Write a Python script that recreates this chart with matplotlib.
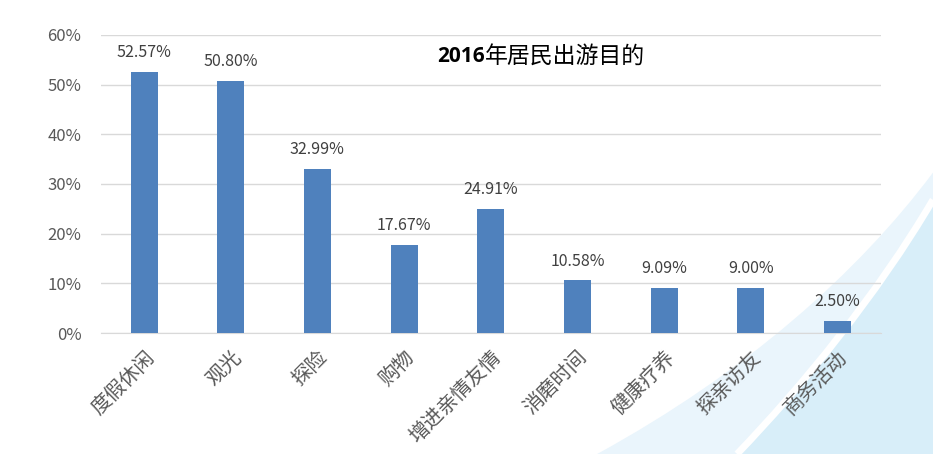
import matplotlib
matplotlib.use('Agg')
import matplotlib.pyplot as plt
import matplotlib.transforms as mtransforms
import numpy as np
from matplotlib.patches import PathPatch
from matplotlib.path import Path

plt.rcParams['font.family'] = ['Noto Sans CJK SC', 'DejaVu Sans']

categories = ['度假休闲', '观光', '探险', '购物', '增进亲情友情', '消磨时间', '健康疗养', '探亲访友', '商务活动']
values = [52.57, 50.80, 32.99, 17.67, 24.91, 10.58, 9.09, 9.00, 2.50]
yticks = [0, 10, 20, 30, 40, 50, 60]

fig = plt.figure(figsize=(9.33, 4.54), dpi=100)

# faint light blue swoosh in the background, bottom right
bg = fig.add_axes([0, 0, 1, 1], zorder=0)
bg.set_xlim(0, 1)
bg.set_ylim(0, 1)
bg.axis('off')
fill_codes = [Path.MOVETO, Path.CURVE4, Path.CURVE4, Path.CURVE4,
              Path.LINETO, Path.LINETO, Path.CLOSEPOLY]
edge_codes = [Path.MOVETO, Path.CURVE4, Path.CURVE4, Path.CURVE4]
outer = [(0.64, 0), (0.80, 0.18), (0.92, 0.40), (1.0, 0.62)]
inner = [(0.79, 0), (0.86, 0.15), (0.94, 0.35), (1.0, 0.56)]
for pts, col in [(outer, '#EAF5FC'), (inner, '#D8EEF9')]:
    bg.add_patch(PathPatch(Path(pts + [(1.0, 0), pts[0], pts[0]], fill_codes),
                           facecolor=col, edgecolor='none'))
bg.add_patch(PathPatch(Path(inner, edge_codes), facecolor='none',
                       edgecolor='white', linewidth=5))

ax = fig.add_axes([0.108, 0.2665, 0.836, 0.6565], zorder=1)
ax.patch.set_alpha(0)
x = np.arange(len(categories))
ax.bar(x, values, width=0.31, color='#4F81BD', zorder=3)

for xi, v in zip(x, values):
    ax.text(xi, v + 2.2, f'{v:.2f}%', ha='center', va='bottom', fontsize=11.5, color='#404040')

ax.set_xlim(-0.5, len(categories) - 0.5)
ax.set_ylim(0, 60)
ax.set_yticks(yticks)
ax.set_yticklabels([f'{t}%' for t in yticks], fontsize=12, color='#595959')
ax.set_xticks(x)
ax.set_xticklabels(categories, rotation=45, ha='right', rotation_mode='anchor',
                   fontsize=14.5, color='#595959')
shift = mtransforms.ScaledTranslation(10 / 100, 0, fig.dpi_scale_trans)
for lab in ax.get_xticklabels():
    lab.set_transform(lab.get_transform() + shift)
ax.tick_params(axis='y', length=0, pad=14)
ax.tick_params(axis='x', length=0, pad=10)
ax.grid(axis='y', color='#D9D9D9', linewidth=1, zorder=0)
for s in ['top', 'right', 'left']:
    ax.spines[s].set_visible(False)
ax.spines['bottom'].set_color('#D9D9D9')

t1 = fig.text(0.469, 0.876, '2016', fontsize=15, fontweight='bold', color='black',
              family=['Open Sans', 'DejaVu Sans'], va='center', ha='left')
ax.annotate('年居民出游目的', xy=(1, 0.5), xycoords=t1, va='center', ha='left',
            fontsize=16.5, color='black')

fig.savefig('out.png', dpi=100)
